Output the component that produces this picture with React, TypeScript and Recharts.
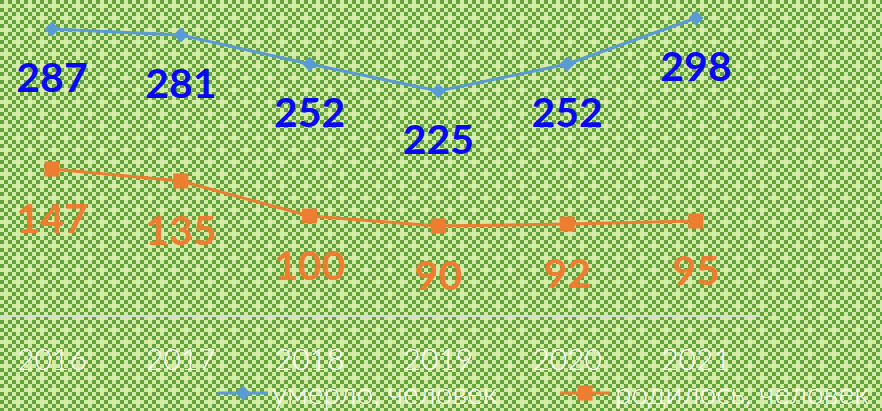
import React from "react";
import { LineChart, Line, XAxis, YAxis, Legend, LabelList } from "recharts";

const years = ["2016", "2017", "2018", "2019", "2020", "2021"];
const died = [287, 281, 252, 225, 252, 298];
const born = [147, 135, 100, 90, 92, 95];
const diedName = "умерло, человек";
const bornName = "родилось, человек";

const data = years.map((y, i) => ({ year: y, died: died[i], born: born[i] }));

const FONT = "Lato, 'Open Sans', sans-serif";

const DARK = "#63a33c";
const LIGHT = "#d4eba5";

function buildTile() {
  const n = 6;
  const s = 4;
  let rects = "";
  const plus: Record<string, boolean> = { "1,1": true, "4,4": true };
  for (let i = 0; i < n; i++) {
    for (let j = 0; j < n; j++) {
      let c = (i + j) % 2 === 0 ? DARK : LIGHT;
      if (plus[`${i},${j}`]) c = LIGHT;
      rects += `<rect x='${i * s}' y='${j * s}' width='${s}' height='${s}' fill='${c}'/>`;
    }
  }
  const svg = `<svg xmlns='http://www.w3.org/2000/svg' width='${n * s}' height='${n * s}' shape-rendering='crispEdges'>${rects}</svg>`;
  return `url("data:image/svg+xml,${encodeURIComponent(svg)}")`;
}

const Diamond = (props: any) => {
  const { cx, cy } = props;
  if (cx == null || cy == null) return null;
  const r = 7.5;
  return (
    <path
      d={`M${cx},${cy - r} L${cx + r},${cy} L${cx},${cy + r} L${cx - r},${cy} Z`}
      fill="#5b9bd5"
    />
  );
};

const Square = (props: any) => {
  const { cx, cy } = props;
  if (cx == null || cy == null) return null;
  const r = 7.5;
  return <rect x={cx - r} y={cy - r} width={2 * r} height={2 * r} fill="#ed7d31" />;
};

const makeLabel = (color: string, dy: number) => (props: any) => {
  const { x, y, value } = props;
  return (
    <text
      x={x}
      y={y + dy}
      textAnchor="middle"
      fill={color}
      fontFamily={FONT}
      fontWeight={700}
      fontSize={41}
    >
      {value}
    </text>
  );
};

const Tick = (props: any) => {
  const { x, y, payload } = props;
  return (
    <text
      x={x}
      y={y + 54}
      textAnchor="middle"
      fill="#ffffff"
      fontFamily={FONT}
      fontWeight={300}
      fontSize={30}
    >
      {payload.value}
    </text>
  );
};

const legendText: React.CSSProperties = {
  position: "absolute",
  top: -4,
  color: "#fff",
  fontFamily: FONT,
  fontWeight: 300,
  fontSize: 30,
  lineHeight: "30px",
  whiteSpace: "nowrap",
};

const renderLegend = () => (
  <div style={{ position: "relative", height: 30, width: 900 }}>
    <svg style={{ position: "absolute", left: 230, top: 0 }} width={50} height={30}>
      <line x1={0} y1={12} x2={50} y2={12} stroke="#5b9bd5" strokeWidth={3} />
      <path d="M25,4.5 L32.5,12 L25,19.5 L17.5,12 Z" fill="#5b9bd5" />
    </svg>
    <div style={{ ...legendText, left: 284 }}>{diedName}</div>
    <svg style={{ position: "absolute", left: 572, top: 0 }} width={50} height={30}>
      <line x1={0} y1={12} x2={50} y2={12} stroke="#ed7d31" strokeWidth={3} />
      <rect x={17.5} y={4.5} width={15} height={15} fill="#ed7d31" />
    </svg>
    <div style={{ ...legendText, left: 627 }}>{bornName}</div>
  </div>
);

export default function App() {
  return (
    <div
      style={{
        position: "absolute",
        left: 0,
        top: 0,
        width: 882,
        height: 411,
        overflow: "hidden",
        backgroundImage: buildTile(),
        backgroundRepeat: "repeat",
      }}
    >
      <div style={{ position: "absolute", left: -12, top: 0 }}>
        <LineChart
          width={800}
          height={411}
          data={data}
          margin={{ top: 16, right: 28, left: 0, bottom: 0 }}
        >
          <XAxis
            dataKey="year"
            axisLine={{ stroke: "#d9d9d9", strokeWidth: 2 }}
            tickLine={false}
            tickSize={0}
            tickMargin={0}
            height={65}
            padding={{ left: 64, right: 64 }}
            tick={<Tick />}
            interval={0}
          />
          <YAxis hide domain={[0, 300]} />
          <Legend verticalAlign="bottom" height={30} content={renderLegend} />
          <Line
            dataKey="died"
            name={diedName}
            stroke="#5b9bd5"
            strokeWidth={3}
            dot={<Diamond />}
            activeDot={false}
            isAnimationActive={false}
          >
            <LabelList dataKey="died" content={makeLabel("#0a0af0", 63)} />
          </Line>
          <Line
            dataKey="born"
            name={bornName}
            stroke="#ed7d31"
            strokeWidth={3}
            dot={<Square />}
            activeDot={false}
            isAnimationActive={false}
          >
            <LabelList dataKey="born" content={makeLabel("#ed7d31", 64)} />
          </Line>
        </LineChart>
      </div>
    </div>
  );
}
